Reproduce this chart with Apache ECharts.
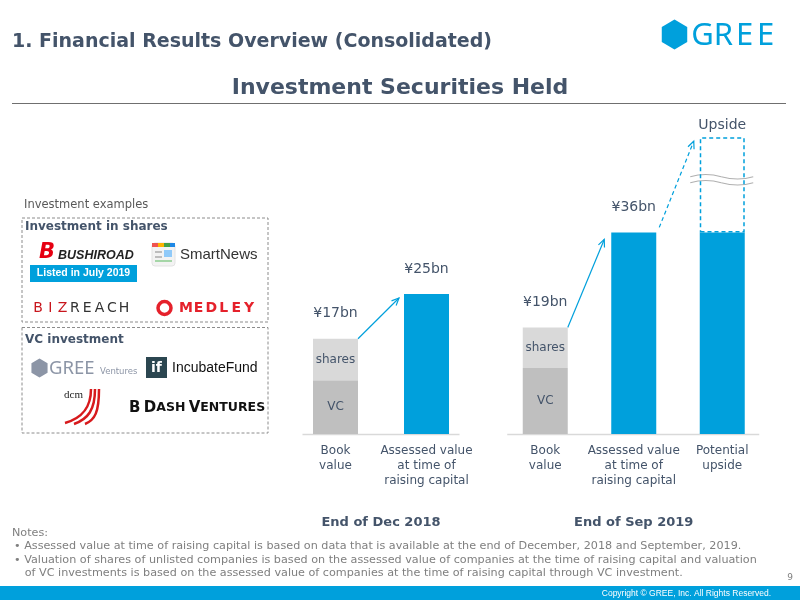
<!DOCTYPE html>
<html>
<head>
<meta charset="utf-8">
<script src="https://cdn.jsdelivr.net/npm/echarts@6/dist/echarts.min.js"></script>
<style>
  html, body { margin: 0; padding: 0; background: #fff; }
  #chart { width: 800px; height: 600px; }
</style>
</head>
<body>
<div id="chart"></div>
<script>
// data (¥ bn)
const periods = ['End of Dec 2018', 'End of Sep 2019']
const catsDec = ['Book\nvalue', 'Assessed value\nat time of\nraising capital']
const catsSep = ['Book\nvalue', 'Assessed value\nat time of\nraising capital', 'Potential\nupside']
const vcDec = [9.6, '-']
const sharesDec = [7.4, '-']
const assessedDec = ['-', 25]
const topLabelsDec = ['¥17bn', '¥25bn']
const vcSep = [11.8, '-', '-']
const sharesSep = [7.2, '-', '-']
const assessedSep = ['-', 36, 36]
const upsideSep = ['-', '-', 17]
const topLabelsSep = ['¥19bn', '¥36bn', 'Upside']
const notes = [
  'Notes:',
  '• Assessed value at time of raising capital is based on data that is available at the end of December, 2018 and September, 2019.',
  '• Valuation of shares of unlisted companies is based on the assessed value of companies at the time of raising capital and valuation',
  '   of VC investments is based on the assessed value of companies at the time of raising capital through VC investment.'
]

const SLATE = '#44546a'
const BLUE = '#00a0dc'
const FONT = '"DejaVu Sans", Verdana, sans-serif'
const NARROW = '"Liberation Sans", Arial, sans-serif'
const BAR_W = 45

const chart = echarts.init(document.getElementById('chart'), null, { renderer: 'canvas' })

function xAxisFor(gridIndex, cats, name) {
  return {
    type: 'category',
    gridIndex,
    data: cats,
    axisLine: { show: false },
    axisTick: { show: false },
    axisLabel: { color: SLATE, fontSize: 12, lineHeight: 15, margin: 9, fontFamily: FONT, interval: 0 },
    name,
    nameLocation: 'middle',
    nameGap: 82,
    nameTextStyle: { color: SLATE, fontSize: 13, fontWeight: 'bold', fontFamily: FONT }
  }
}

function yAxisFor(gridIndex) {
  return { type: 'value', gridIndex, min: 0, max: 60, show: false, splitLine: { show: false } }
}

function segLabel(text) {
  return { show: true, position: 'inside', formatter: text, color: SLATE, fontSize: 12, fontFamily: FONT }
}

function stackSeries(idx, stack, vc, shares, assessed, upside, topLabels) {
  const list = [
    { name: 'VC', data: vc, color: '#bfbfbf', label: segLabel('VC') },
    { name: 'shares', data: shares, color: '#d9d9d9', label: segLabel('shares') },
    { name: 'Assessed value', data: assessed, color: BLUE }
  ].map(s => ({
    type: 'bar', xAxisIndex: idx, yAxisIndex: idx, stack, barWidth: BAR_W,
    name: s.name, data: s.data, itemStyle: { color: s.color }, label: s.label || { show: false }
  }))
  if (upside) {
    list.push({
      type: 'bar', xAxisIndex: idx, yAxisIndex: idx, stack, barWidth: BAR_W, name: 'Upside',
      data: upside,
      itemStyle: { color: 'rgba(255,255,255,0)', borderColor: BLUE, borderWidth: 1.5, borderType: [4, 3] }
    })
  }
  // zero-height bar riding on top of each stack, carrying the total label
  list.push({
    type: 'bar', xAxisIndex: idx, yAxisIndex: idx, stack, barWidth: BAR_W, name: 'total',
    data: topLabels.map(t => ({
      value: 0,
      label: { distance: t === 'Upside' ? 5 : 18 }
    })),
    itemStyle: { color: 'rgba(0,0,0,0)' },
    label: {
      show: true, position: 'top', color: SLATE, fontSize: 14, fontFamily: FONT,
      formatter: p => topLabels[p.dataIndex]
    }
  })
  return list
}

chart.setOption({
  animation: false,
  backgroundColor: '#fff',
  grid: [
    { left: 290, top: 98, width: 182, height: 336 },
    { left: 501, top: 98, width: 265.5, height: 336 }
  ],
  xAxis: [xAxisFor(0, catsDec, periods[0]), xAxisFor(1, catsSep, periods[1])],
  yAxis: [yAxisFor(0), yAxisFor(1)],
  series: [
    ...stackSeries(0, 'dec', vcDec, sharesDec, assessedDec, null, topLabelsDec),
    ...stackSeries(1, 'sep', vcSep, sharesSep, assessedSep, upsideSep, topLabelsSep)
  ]
})

// ---------- decorations ----------
function txt(x, y, text, o) {
  return {
    type: 'text', x, y, silent: true,
    style: Object.assign({ text, fill: SLATE, fontSize: 12, fontFamily: FONT, align: 'left', verticalAlign: 'middle' }, o || {})
  }
}
function spaced(x, y, str, step, o) {
  return str.split('').map((c, i) => txt(x + i * step, y, c, Object.assign({ align: 'center' }, o)))
}
function hexagon(cx, cy, r, fill) {
  const pts = []
  for (let i = 0; i < 6; i++) {
    const a = Math.PI / 2 + i * Math.PI / 3
    pts.push([cx + r * Math.cos(a) * 0.98, cy + r * Math.sin(a)])
  }
  return { type: 'polygon', silent: true, shape: { points: pts }, style: { fill } }
}
function curve(x1, y1, cpx1, cpy1, cpx2, cpy2, x2, y2, stroke, lw) {
  return { type: 'bezierCurve', silent: true, shape: { x1, y1, cpx1, cpy1, cpx2, cpy2, x2, y2 },
    style: { fill: null, stroke, lineWidth: lw } }
}
function arrow(p0, p1, dashed) {
  const ang = Math.atan2(p1[1] - p0[1], p1[0] - p0[0])
  const L = 8, a = 0.42
  const h1 = [p1[0] - L * Math.cos(ang - a), p1[1] - L * Math.sin(ang - a)]
  const h2 = [p1[0] - L * Math.cos(ang + a), p1[1] - L * Math.sin(ang + a)]
  return [
    { type: 'line', silent: true, shape: { x1: p0[0], y1: p0[1], x2: p1[0], y2: p1[1] },
      style: { stroke: BLUE, lineWidth: 1.2, lineDash: dashed ? [4, 3] : null } },
    { type: 'polyline', silent: true, shape: { points: [h1, p1, h2] },
      style: { stroke: BLUE, lineWidth: 1.2, fill: null } }
  ]
}

const px = (g, cat, val) => chart.convertToPixel({ xAxisIndex: g, yAxisIndex: g }, [cat, val])
const half = BAR_W / 2
const base0 = px(0, 0, 0)
const base1 = px(1, 0, 0)
const lastDec = px(0, catsDec.length - 1, 0)
const lastSep = px(1, catsSep.length - 1, 0)

// wave break on the upside column
const w = px(1, 2, 45.4)
const x0 = w[0] - 32, x1 = w[0] + 31
const ya = w[1] - 3, yb = w[1] + 3
const waveSegs = y => [
  [x0, y, x0 + 10, y - 3, x0 + 21, y - 3, x0 + 31, y],
  [x0 + 31, y, x0 + 42, y + 3, x0 + 53, y + 3, x1, y]
]
function sampleWave(y) {
  const pts = []
  waveSegs(y).forEach(s => {
    for (let k = 0; k <= 10; k++) {
      const t = k / 10, u = 1 - t
      pts.push([
        u * u * u * s[0] + 3 * u * u * t * s[2] + 3 * u * t * t * s[4] + t * t * t * s[6],
        u * u * u * s[1] + 3 * u * u * t * s[3] + 3 * u * t * t * s[5] + t * t * t * s[7]
      ])
    }
  })
  return pts
}
const bandPts = sampleWave(ya).concat(sampleWave(yb).reverse())
const waveLines = [ya, yb].flatMap(y => waveSegs(y).map(s => curve(s[0], s[1], s[2], s[3], s[4], s[5], s[6], s[7], '#b0b0b0', 1.1)))

const NOTE = { fontSize: 11.2, fill: '#7f7f7f', fontFamily: FONT }

const graphics = [
  // header
  txt(12, 42, '1. Financial Results Overview (Consolidated)', { fontSize: 19, fontWeight: 'bold' }),
  hexagon(674.5, 34.5, 15, BLUE),
  ...spaced(702.5, 36, 'GREE', 21, { fontSize: 31, fill: BLUE, fontFamily: '"Noto Sans", sans-serif' }),
  txt(400, 88, 'Investment Securities Held', { fontSize: 22, fontWeight: 'bold', align: 'center' }),
  { type: 'line', silent: true, shape: { x1: 12, y1: 103.5, x2: 786, y2: 103.5 }, style: { stroke: '#6f6f6f', lineWidth: 1 } },

  // baselines
  { type: 'line', silent: true, shape: { x1: base0[0] - 33, y1: base0[1] + 0.5, x2: lastDec[0] + 33, y2: base0[1] + 0.5 }, style: { stroke: '#d9d9d9', lineWidth: 1.5 } },
  { type: 'line', silent: true, shape: { x1: base1[0] - 38, y1: base1[1] + 0.5, x2: lastSep[0] + 37, y2: base1[1] + 0.5 }, style: { stroke: '#d9d9d9', lineWidth: 1.5 } },

  // arrows
  ...arrow([px(0, 0, 17)[0] + half, px(0, 0, 17)[1]], [px(0, 1, 25)[0] - half - 5, px(0, 1, 25)[1] + 4]),
  ...arrow([px(1, 0, 19)[0] + half, px(1, 0, 19)[1]], [px(1, 1, 36)[0] - half - 7, px(1, 1, 36)[1] + 7]),
  ...arrow([px(1, 1, 36)[0] + half + 3, px(1, 1, 36)[1] - 5], [px(1, 2, 53)[0] - half - 6, px(1, 2, 53)[1] + 4], true),

  // wave break
  { type: 'polygon', silent: true, shape: { points: bandPts }, style: { fill: '#fff' } },
  ...waveLines,

  // investment examples panel
  txt(24, 205, 'Investment examples', { fontSize: 11.5, fill: '#595959' }),
  { type: 'rect', silent: true, shape: { x: 22, y: 218, width: 246, height: 104 }, style: { fill: null, stroke: '#8c8c8c', lineWidth: 1, lineDash: [3, 2] } },
  txt(25, 226.5, 'Investment in shares', { fontSize: 12, fontWeight: 'bold' }),
  txt(39, 253, 'B', { fontSize: 21, fontWeight: 'bold', fontStyle: 'italic', fill: '#e60012' }),
  txt(58, 256, 'BUSHIROAD', { fontSize: 12.5, fontWeight: 'bold', fontStyle: 'italic', fill: '#222', fontFamily: NARROW }),
  { type: 'rect', silent: true, shape: { x: 30, y: 265, width: 107, height: 17 }, style: { fill: BLUE } },
  txt(83.5, 273.5, 'Listed in July 2019', { fontSize: 10.5, fontWeight: 'bold', fill: '#fff', align: 'center', fontFamily: NARROW }),
  { type: 'rect', silent: true, shape: { x: 152, y: 243, width: 23, height: 23, r: 3 }, style: { fill: '#f3f3f3', stroke: '#e3e3e3' } },
  { type: 'rect', silent: true, shape: { x: 152, y: 243, width: 6, height: 4 }, style: { fill: '#ef5350' } },
  { type: 'rect', silent: true, shape: { x: 158, y: 243, width: 6, height: 4 }, style: { fill: '#ffb300' } },
  { type: 'rect', silent: true, shape: { x: 164, y: 243, width: 6, height: 4 }, style: { fill: '#43a047' } },
  { type: 'rect', silent: true, shape: { x: 170, y: 243, width: 5, height: 4 }, style: { fill: '#1e88e5' } },
  { type: 'rect', silent: true, shape: { x: 155, y: 251, width: 7, height: 2 }, style: { fill: '#bdbdbd' } },
  { type: 'rect', silent: true, shape: { x: 155, y: 256, width: 7, height: 2 }, style: { fill: '#bdbdbd' } },
  { type: 'rect', silent: true, shape: { x: 164, y: 250, width: 8, height: 7 }, style: { fill: '#90caf9' } },
  { type: 'rect', silent: true, shape: { x: 155, y: 260, width: 17, height: 2 }, style: { fill: '#a5d6a7' } },
  txt(180, 255, 'SmartNews', { fontSize: 15, fill: '#333', fontFamily: NARROW }),
  ...spaced(38, 308, 'BIZ', 12.3, { fontSize: 14, fill: '#c8161d' }),
  ...spaced(38 + 3 * 12.3, 308, 'REACH', 12.3, { fontSize: 14, fill: '#333' }),
  { type: 'circle', silent: true, shape: { cx: 164.5, cy: 308, r: 6.5 }, style: { fill: null, stroke: '#e5212b', lineWidth: 3.5 } },
  ...spaced(186, 308.5, 'MEDLEY', 12.6, { fontSize: 14, fontWeight: 'bold', fill: '#e5212b' }),

  { type: 'rect', silent: true, shape: { x: 22, y: 327.5, width: 246, height: 105.5 }, style: { fill: null, stroke: '#8c8c8c', lineWidth: 1, lineDash: [3, 2] } },
  txt(25, 339.5, 'VC investment', { fontSize: 12, fontWeight: 'bold' }),
  hexagon(39.5, 368, 9.5, '#8c95a6'),
  txt(49, 368.5, 'GREE', { fontSize: 18.5, fill: '#8c95a6', fontFamily: '"Noto Sans", sans-serif' }),
  txt(100, 372, 'Ventures', { fontSize: 8.5, fill: '#8c95a6', fontFamily: FONT }),
  { type: 'rect', silent: true, shape: { x: 146, y: 357, width: 21, height: 21 }, style: { fill: '#2b4650' } },
  txt(156.5, 368, 'if', { fontSize: 14, fontWeight: 'bold', fill: '#fff', align: 'center' }),
  txt(172, 368, 'IncubateFund', { fontSize: 14, fill: '#111', fontFamily: NARROW }),
  txt(64, 395, 'dcm', { fontSize: 11, fill: '#222', fontFamily: '"Liberation Serif", serif' }),
  curve(91, 389, 91, 408, 82, 418, 65, 423, '#d7191c', 2.5),
  curve(95, 389, 95, 410, 88, 419, 74, 424, '#d7191c', 2.5),
  curve(99, 389, 99, 412, 95, 420, 85, 424, '#d7191c', 2.5),
  {
    type: 'text', x: 129, y: 408, silent: true,
    style: {
      text: '{a|B} {a|D}{b|ASH} {a|V}{b|ENTURES}', verticalAlign: 'middle', fill: '#111',
      rich: {
        a: { fontSize: 15, fontWeight: 'bold', fontFamily: FONT, fill: '#111' },
        b: { fontSize: 12.5, fontWeight: 'bold', fontFamily: FONT, fill: '#111' }
      }
    }
  },

  // notes
  txt(12, 533, notes[0], NOTE),
  txt(14, 546.5, notes[1], NOTE),
  txt(14, 560, notes[2], NOTE),
  txt(14, 573.5, notes[3], NOTE),
  txt(790, 578, '9', { fontSize: 9, fill: '#7f7f7f', align: 'center' }),

  // footer
  { type: 'rect', silent: true, shape: { x: 0, y: 586, width: 800, height: 14 }, style: { fill: BLUE } },
  txt(771, 593.5, 'Copyright © GREE, Inc. All Rights Reserved.', { fontSize: 8.5, fill: '#fff', align: 'right', fontFamily: NARROW })
]

chart.setOption({ graphic: graphics })
</script>
</body>
</html>
